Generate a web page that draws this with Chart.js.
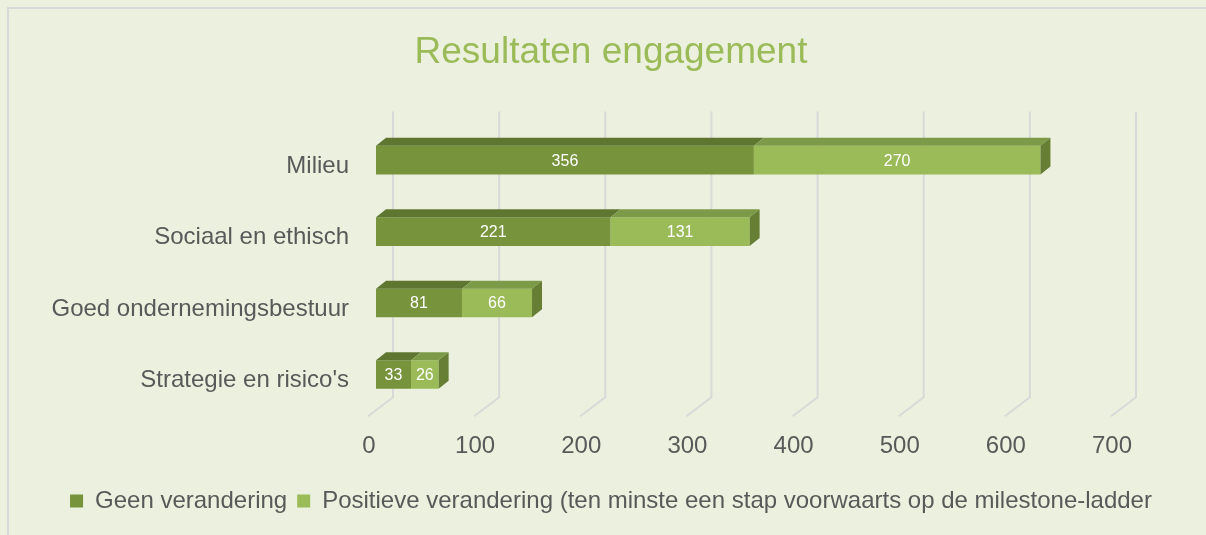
<!DOCTYPE html>
<html>
<head>
<meta charset="utf-8">
<title>Resultaten engagement</title>
<script src="https://cdn.jsdelivr.net/npm/chart.js@4"></script>
<style>
    html, body { margin: 0; padding: 0; background: #EBF1DE; overflow: hidden; }
    #wrap { position: relative; width: 1206px; height: 535px; }
    #kader { position: absolute; left: 7px; top: 7px; width: 1300px; height: 600px; border: 2px solid #D9D9D9; }
    #grafiek { position: absolute; left: 0; top: 0; }
</style>
</head>
<body>
<div id="wrap">
    <div id="kader"></div>
    <canvas id="grafiek" width="1206" height="535"></canvas>
</div>
<script>
// data
const categorieen = ['Milieu', 'Sociaal en ethisch', 'Goed ondernemingsbestuur', "Strategie en risico's"]
const geenVerandering = [356, 221, 81, 33]
const positieveVerandering = [270, 131, 66, 26]
const reeksNamen = ['Geen verandering', 'Positieve verandering (ten minste een stap voorwaarts op de milestone-ladder']
const asMin = 0
const asMax = 700
const asStap = 100

// stijl
const kleuren = {
    voor: ['#77933C', '#9BBB59'],
    boven: ['#5E7630', '#7C9A47'],
    zij: '#677F34',
    raster: '#D9D9D9',
    tekst: '#595959',
    titel: '#9BBB59'
}
const lettertype = "'Liberation Sans', Arial, sans-serif"
const diepte = { dx: 10, dy: 8 }

// achterwand-rasterlijnen met schuine voet (3D)
const rasterPlugin = {
    id: 'raster3d',
    beforeDatasetsDraw(chart) {
        const { ctx, chartArea, scales: { x } } = chart
        ctx.save()
        ctx.strokeStyle = kleuren.raster
        ctx.lineWidth = 2
        x.ticks.forEach(t => {
            const px = x.getPixelForValue(t.value)
            ctx.beginPath()
            ctx.moveTo(px + 17, chartArea.top - 13)
            ctx.lineTo(px + 17, chartArea.bottom - 13)
            ctx.lineTo(px - 8, chartArea.bottom + 6)
            ctx.stroke()
        })
        ctx.restore()
    }
}

// bovenkant, zijkant en waardelabels van de balken
const blokPlugin = {
    id: 'blok3d',
    afterDatasetsDraw(chart) {
        const ctx = chart.ctx
        const laatste = chart.data.datasets.length - 1
        const { dx, dy } = diepte
        ctx.save()
        chart.data.datasets.forEach((ds, i) => {
            const meta = chart.getDatasetMeta(i)
            meta.data.forEach((bar, j) => {
                const { x, y, base, height } = bar.getProps(['x', 'y', 'base', 'height'], true)
                const boven = y - height / 2
                const onder = y + height / 2

                ctx.fillStyle = kleuren.boven[i]
                ctx.beginPath()
                ctx.moveTo(base, boven)
                ctx.lineTo(base + dx, boven - dy)
                ctx.lineTo(x + dx, boven - dy)
                ctx.lineTo(x, boven)
                ctx.closePath()
                ctx.fill()

                if (i === laatste) {
                    ctx.fillStyle = kleuren.zij
                    ctx.beginPath()
                    ctx.moveTo(x, boven)
                    ctx.lineTo(x + dx, boven - dy)
                    ctx.lineTo(x + dx, onder - dy)
                    ctx.lineTo(x, onder)
                    ctx.closePath()
                    ctx.fill()
                }

                ctx.fillStyle = '#FFFFFF'
                ctx.font = '16px ' + lettertype
                ctx.textAlign = 'center'
                ctx.textBaseline = 'middle'
                ctx.fillText(String(ds.data[j]), (base + x) / 2, y + 1)
            })
        })
        ctx.restore()
    }
}

new Chart(document.getElementById('grafiek'), {
    type: 'bar',
    data: {
        labels: categorieen,
        datasets: [
            {
                label: reeksNamen[0],
                data: geenVerandering,
                backgroundColor: kleuren.voor[0],
                borderWidth: 0
            },
            {
                label: reeksNamen[1],
                data: positieveVerandering,
                backgroundColor: kleuren.voor[1],
                borderWidth: 0
            }
        ]
    },
    options: {
        indexAxis: 'y',
        responsive: false,
        animation: false,
        categoryPercentage: 0.8,
        barPercentage: 0.5,
        layout: { padding: { left: 16, right: 0, top: 0, bottom: 12 } },
        scales: {
            x: {
                stacked: true,
                min: asMin,
                max: asMax,
                grid: { display: false, drawTicks: false },
                border: { display: false },
                ticks: {
                    stepSize: asStap,
                    padding: 22,
                    labelOffset: -7,
                    maxRotation: 0,
                    color: kleuren.tekst,
                    font: { family: lettertype, size: 24 }
                },
                afterFit(scale) { scale.height = 68.75 }
            },
            y: {
                stacked: true,
                grid: { display: false, drawTicks: false },
                border: { display: false },
                ticks: {
                    padding: 27,
                    labelOffset: 6,
                    color: kleuren.tekst,
                    font: { family: lettertype, size: 24 }
                },
                afterFit(scale) { scale.width = 360 }
            },
            // lege ruimte rechts van het plotgebied
            rechts: {
                type: 'category',
                axis: 'y',
                position: 'right',
                labels: categorieen,
                grid: { display: false, drawTicks: false },
                border: { display: false },
                ticks: { display: false },
                afterFit(scale) { scale.width = 87 }
            }
        },
        plugins: {
            title: {
                display: true,
                text: 'Resultaten engagement',
                color: kleuren.titel,
                font: { family: lettertype, size: 37, weight: 'normal' },
                padding: { top: 31, bottom: 49 }
            },
            legend: {
                position: 'bottom',
                labels: {
                    boxWidth: 13,
                    boxHeight: 13,
                    padding: 10,
                    color: kleuren.tekst,
                    font: { family: lettertype, size: 24 }
                }
            },
            tooltip: { enabled: false }
        }
    },
    plugins: [rasterPlugin, blokPlugin]
})
</script>
</body>
</html>
